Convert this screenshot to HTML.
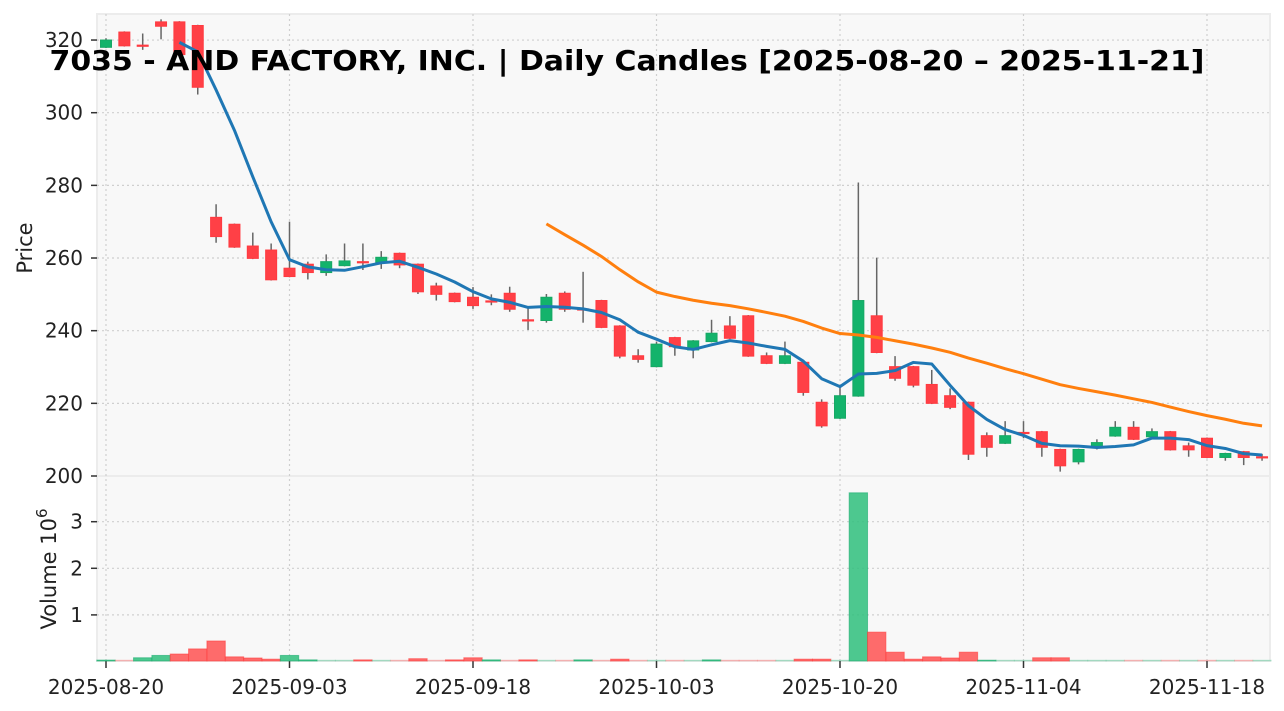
<!DOCTYPE html>
<html><head><meta charset="utf-8"><style>
html,body{margin:0;padding:0;background:#fff;}
svg{display:block;font-family:"DejaVu Sans","Liberation Sans",sans-serif;}
</style></head><body>
<svg id="chart" width="1284" height="711" viewBox="0 0 1284 711" xmlns="http://www.w3.org/2000/svg"></svg>
<script>
const opens  = [318,322.2,318.6,325,325,324,271.2,269.3,263.3,262.2,257.2,258.3,256,257.9,259,258.8,261.3,258.3,252.3,250.3,249.2,248.2,250.3,243,242.8,250.3,246,248.3,241.3,233.1,230.1,238.1,234.7,237,241.3,244.1,233.1,231,231.3,220.3,215.9,222,244.1,230.1,230.1,225.2,222.1,220.3,211.1,209,212,212.2,207.3,203.9,208.1,211,213.4,210.8,212.2,208.3,210.4,205.1,206.7,205.3];
const closes = [320,318.4,318.6,323.8,316,307,265.9,263,259.9,254,254.9,256,259,259.2,259,260.2,258.1,250.7,250,248,246.9,248.2,245.9,243,249.2,245.9,246,240.9,233,232.1,236.3,235.6,237.2,239.3,237.9,233,231,233.1,223,213.8,222.1,248.3,234,226.9,225,220,218.9,206,207.9,211.1,212,207.9,202.8,207.3,209.2,213.4,210.1,212.2,207.2,207.2,205.1,206.2,205.1,205.3];
const highs  = [320.5,322.4,321.8,325.7,325.2,324.2,274.8,269.5,267,264,270,259,261,264,264,261.9,261.5,258.5,253.2,250.5,252,250,252.1,246.2,250.1,250.8,256.2,248.5,241.5,234.9,237,238.3,237.4,243,244,244.3,234,237,231.5,221.1,224.6,280.8,260.1,233,230.3,229.2,224.1,220.5,212,215.1,215.1,212.4,207.5,207.5,210.1,215.1,215.1,213.1,212.4,209.2,210.6,206.4,206.9,206.1];
const lows   = [317.8,318.2,317.3,320.2,315.8,305,264.2,262.8,259.7,253.8,254.7,254.1,255.1,257.7,256.7,257,257.2,250.1,248.3,247.8,246,247,245.2,240.2,242.2,245.2,242.2,240.7,232.4,231.2,229.9,233.1,232.4,236.8,237.7,232.8,230.8,230.8,222.1,213.3,215.7,221.8,233.8,226.2,224.4,219.8,218.4,204.4,205.3,208.8,210.4,205.3,201.2,203.2,207.3,210.8,209.9,210.6,207,205.3,204.9,204.2,203,204.2];
const volumes = [0.03,0.01,0.08,0.13,0.16,0.27,0.44,0.1,0.075,0.05,0.13,0.035,0.01,0.01,0.035,0.01,0.01,0.06,0.01,0.035,0.08,0.035,0.01,0.035,0.01,0.01,0.035,0.01,0.05,0.01,0.01,0.01,0.01,0.035,0.01,0.01,0.01,0.01,0.05,0.05,0.01,3.62,0.63,0.2,0.05,0.1,0.075,0.2,0.025,0.01,0.01,0.08,0.08,0.01,0.01,0.01,0.01,0.01,0.01,0.01,0.01,0.01,0.01,0.01];
const xTickIdx = [0,10,20,30,40,50,60];
const xTickLabels = ["2025-08-20","2025-09-03","2025-09-18","2025-10-03","2025-10-20","2025-11-04","2025-11-18"];
const priceTicks = [200,220,240,260,280,300,320];
const volTicks = [1,2,3];
const maShort = 5, maLong = 25;

const NS="http://www.w3.org/2000/svg";
const svg=document.getElementById('chart');
const L=97,R=1270,PT=14,PB=476,VT=476,VB=661;
const xOf=i=>106+18.35*i;
const yP=p=>476-(p-200)*3.633;
const yV=v=>661.5-v*46.6;
function mk(tag,attrs,parent){const e=document.createElementNS(NS,tag);for(const k in attrs)e.setAttribute(k,attrs[k]);(parent||svg).appendChild(e);return e;}

let e=mk('rect',{x:L,y:PT,width:R-L,height:PB-PT,fill:'#f8f8f8',stroke:'#ececec','stroke-width':2});


e=mk('rect',{x:L,y:VT,width:R-L,height:VB-VT,fill:'#f8f8f8',stroke:'#ececec','stroke-width':2});



const grid=mk('g',{stroke:'#cfcfcf','stroke-width':1.2,'stroke-dasharray':'2,3'});


xTickIdx.forEach(i=>{mk('line',{x1:xOf(i),x2:xOf(i),y1:PT,y2:VB},grid);});
priceTicks.forEach(p=>{if(p>200)mk('line',{x1:L,x2:R,y1:yP(p),y2:yP(p)},grid);});
volTicks.forEach(v=>{mk('line',{x1:L,x2:R,y1:yV(v),y2:yV(v)},grid);});

const ax=mk('g',{fill:'#222','font-size':20});


priceTicks.forEach(p=>{
  mk('line',{x1:L-6,x2:L,y1:yP(p),y2:yP(p),stroke:'#333','stroke-width':1.5},ax);
  const t=mk('text',{x:L-14,y:yP(p)+7,'text-anchor':'end'},ax);t.textContent=p;
  
  
});
volTicks.forEach(v=>{
  mk('line',{x1:L-6,x2:L,y1:yV(v),y2:yV(v),stroke:'#333','stroke-width':1.5},ax);
  const t=mk('text',{x:L-14,y:yV(v)+7,'text-anchor':'end'},ax);t.textContent=v;
  
  
});
xTickIdx.forEach((i,k)=>{
  mk('line',{x1:xOf(i),x2:xOf(i),y1:VB,y2:VB+7,stroke:'#333','stroke-width':1.5},ax);
  const t=mk('text',{x:xOf(i),y:694,'text-anchor':'middle'},ax);t.textContent=xTickLabels[k];
  
  
});
let t=mk('text',{x:32,y:248,'text-anchor':'middle','font-size':21,transform:'rotate(-90 32 248)'},ax);t.textContent='Price';


t=mk('text',{x:56,y:569,'text-anchor':'middle','font-size':21,transform:'rotate(-90 56 569)'},ax);
t.innerHTML='Volume  10<tspan dy="-9" font-size="15">6</tspan>';



const vg=mk('g',{});


volumes.forEach((v,i)=>{
  const up = i===0 ? closes[0]>=opens[0] : closes[i]>=closes[i-1];
  const y=Math.min(yV(v),VB-0.8);
  const b=mk('rect',{x:xOf(i)-9.17,y:y,width:18.35,height:VB-y,fill:up?'#2fbf7c':'#ff5252','fill-opacity':v<0.02?0.25:0.85,stroke:up?'#1aae6f':'#ff4040','stroke-opacity':v<0.02?0.2:0.6,'stroke-width':1},vg);
  
  
});

const cg=mk('g',{});


opens.forEach((o,i)=>{
  const c=closes[i],up=c>o,x=xOf(i);
  const w=mk('line',{x1:x,x2:x,y1:yP(highs[i]),y2:yP(lows[i]),stroke:'#666','stroke-width':1.5},cg);
  
  
  const top=yP(Math.max(o,c)),bot=yP(Math.min(o,c));
  const b=mk('rect',{x:x-5.5,y:top,width:11,height:Math.max(bot-top,1.2),fill:up?'#13b36b':'#ff4046',stroke:up?'#17a865':'#ff3a40','stroke-width':1},cg);
  
  
});

function ma(n){const out=[];for(let i=n-1;i<closes.length;i++){let s=0;for(let k=i-n+1;k<=i;k++)s+=closes[k];out.push([i,s/n]);}return out;}
function line(pts,color,name){
  const p=mk('polyline',{points:pts.map(([i,v])=>xOf(i)+','+yP(v)).join(' '),fill:'none',stroke:color,'stroke-width':3,'stroke-linejoin':'round'});
  
  
}
line(ma(maLong),'#ff7f0e','ma25-line');
line(ma(maShort),'#1f77b4','ma5-line');

t=mk('text',{x:627,y:70,'text-anchor':'middle','font-size':28,'font-weight':'bold',fill:'#000',textLength:1155,lengthAdjust:'spacingAndGlyphs'});
t.textContent='7035 - AND FACTORY, INC. | Daily Candles [2025-08-20 – 2025-11-21]';


</script>
</body></html>
